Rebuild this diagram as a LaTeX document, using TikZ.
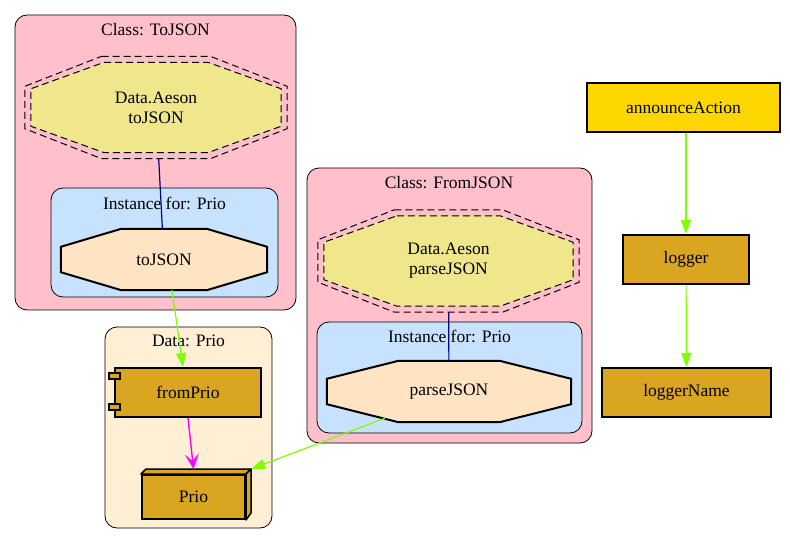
\documentclass[tikz,border=0pt]{standalone}
\usepackage{fontspec}
\setmainfont{Liberation Serif}
\usetikzlibrary{positioning,calc,arrows.meta}

\definecolor{clpink}{HTML}{FFC0CB}
\definecolor{instblue}{HTML}{C6E2FF}
\definecolor{datawhip}{HTML}{FFEFD5}
\definecolor{aesonkhaki}{HTML}{F0E68C}
\definecolor{methbisque}{HTML}{FFE4C4}
\definecolor{fungold}{HTML}{DAA520}
\definecolor{rootgold}{HTML}{FFD700}
\definecolor{callgreen}{HTML}{7FFF00}
\definecolor{navyline}{HTML}{000080}
\definecolor{usemagenta}{HTML}{FF00FF}

\pgfdeclarelayer{back}
\pgfsetlayers{back,main}

% octagon in the box of a node: [options]{node}{inset}
\newcommand{\octo}[3][]{%
  \coordinate (tl) at ($(#2.north west)+(#3,#3)$);
  \coordinate (br) at ($(#2.south east)-(#3,#3)$);
  \path[#1] ($(tl)!0.293!(tl-|br)$) -- ($(tl)!0.707!(tl-|br)$)
    -- ($(tl-|br)!0.293!(br)$) -- ($(tl-|br)!0.707!(br)$)
    -- ($(br)!0.293!(br-|tl)$) -- ($(br)!0.707!(br-|tl)$)
    -- ($(br-|tl)!0.293!(tl)$) -- ($(br-|tl)!0.707!(tl)$) -- cycle;}

\begin{document}
\begin{tikzpicture}[x=1pt, y=-1pt,
    font=\fontsize{17.5}{20}\selectfont,
    box/.style={draw, line width=2pt, fill=fungold, minimum height=49pt, inner sep=0pt},
    octbox/.style={inner sep=0pt, align=center},
    cluster/.style={draw, line width=0.8pt, rounded corners=12pt},
    dashline/.style={draw, line width=1pt, dash pattern=on 7pt off 4pt},
    flow/.style={-{Triangle[length=14pt,width=10pt]}, callgreen, line width=1.2pt},
    use/.style={-{Stealth[length=15pt,width=14pt,inset=7pt]}, usemagenta, line width=1.4pt},
    link/.style={navyline, line width=1.2pt}
]
\useasboundingbox (0,0) rectangle (790,545);

% Right column
\node[box, fill=rootgold, minimum width=193pt] (announce) at (683.5,107.5) {announceAction};
\node[box, minimum width=126pt] (logger) at (686,259.5) {logger};
\node[box, minimum width=169pt] (loggername) at (686.5,392.5) {loggerName};

% Data: Prio
\node[box, minimum width=146pt] (fromprio) at (188,392.5) {fromPrio};
\node[box, minimum width=103pt, minimum height=44pt] (prio) at (193.5,497) {Prio};

% Cluster labels
\node (lbltojson) at (155.5,30) {Class: ToJSON};
\node (lblinsttojson) at (164.5,203) {Instance for: Prio};
\node (lbldataprio) at (188.5,341) {Data: Prio};
\node (lblfromjson) at (449,183) {Class: FromJSON};
\node (lblinstfromjson) at (449.5,336) {Instance for: Prio};

% Methods
\node[octbox, minimum width=262pt, minimum height=102pt] (aesontojson) at (156,107.5) {Data.Aeson\\toJSON};
\node[octbox, minimum width=206pt, minimum height=61pt] (tojson) at (164,259.5) {toJSON};
\node[octbox, minimum width=261pt, minimum height=102pt] (aesonparse) at (448.5,261) {Data.Aeson\\parseJSON};
\node[octbox, minimum width=244pt, minimum height=61pt] (parsejson) at (449,391.5) {parseJSON};

\begin{pgfonlayer}{back}
% Clusters
\draw[cluster, fill=clpink] (15,15) rectangle (296,310);
\draw[cluster, fill=instblue] (51,188) rectangle (278,297);
\draw[cluster, fill=clpink] (307,168) rectangle (592,443);
\draw[cluster, fill=instblue] (317,322) rectangle (582,433);
\draw[cluster, fill=datawhip] (105,327) rectangle (272,528);

% Octagons
\octo[fill=aesonkhaki, dashline]{aesontojson}{6}
\octo[dashline]{aesontojson}{0}
\octo[fill=methbisque, draw, line width=2pt]{tojson}{0}
\octo[fill=aesonkhaki, dashline]{aesonparse}{6}
\octo[dashline]{aesonparse}{0}
\octo[fill=methbisque, draw, line width=2pt]{parsejson}{0}
\end{pgfonlayer}

% Component tabs and 3D box faces
\draw[fill=fungold, line width=1.5pt] ($(fromprio.west)+(-5,-19.5)$) rectangle ++(11,6);
\draw[fill=fungold, line width=1.5pt] ($(fromprio.west)+(-5,11.5)$) rectangle ++(11,6);
\draw[fill=fungold, line width=1.5pt, line join=round] (prio.north west) -- ++(5,-5)
  -- ([shift={(5,-5)}]prio.north east) -- (prio.north east) -- cycle;
\draw[fill=fungold, line width=1.5pt, line join=round] (prio.north east) -- ++(5,-5)
  -- ++(0,44) -- (prio.south east) -- cycle;

% Relations
\draw[link] (aesontojson) -- (tojson);
\draw[link] (aesonparse) -- (parsejson);
\draw[flow] ([xshift=8pt]tojson.south) -- ([xshift=-5pt]fromprio.north);
\draw[use] (fromprio.south) -- ([yshift=5pt]prio.north);
\draw[flow] ([xshift=-64pt,yshift=4pt]parsejson.south) -- ([xshift=5pt,yshift=5pt]prio.north east);
\draw[flow] (announce.south -| logger.north) -- (logger.north);
\draw[flow] (logger) -- (loggername);

\end{tikzpicture}
\end{document}
